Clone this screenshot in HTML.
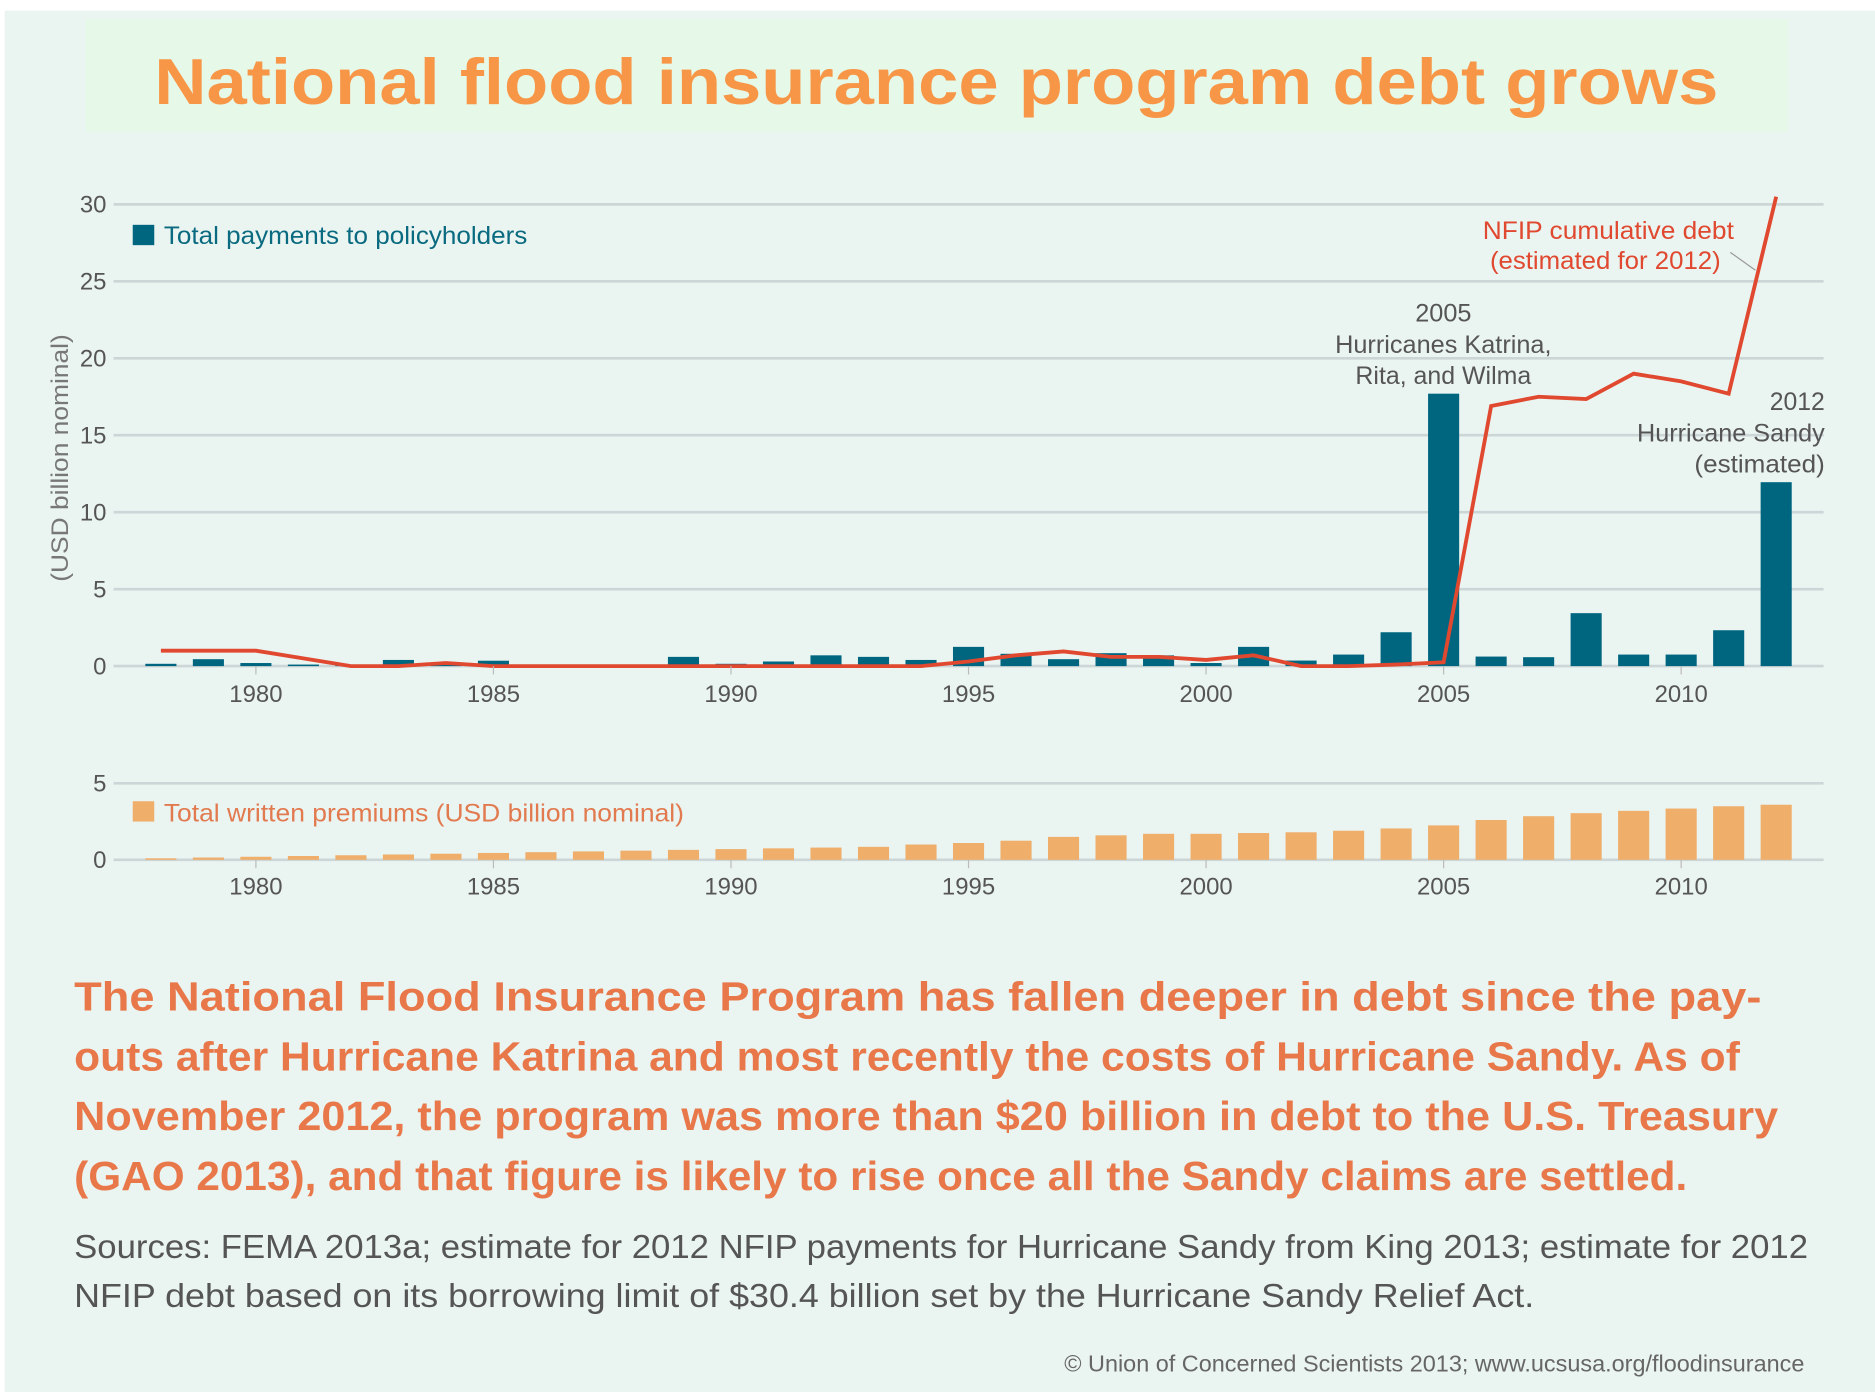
<!DOCTYPE html>
<html><head><meta charset="utf-8">
<style>
html,body{margin:0;padding:0;background:#fff;width:1875px;height:1392px;overflow:hidden}
svg{display:block}
text{font-family:"Liberation Sans",sans-serif}
</style></head>
<body>
<svg id="chart" width="1875" height="1392" viewBox="0 0 1568 1164" preserveAspectRatio="none" xmlns="http://www.w3.org/2000/svg">
<rect x="0" y="0" width="1568" height="1164" fill="#ffffff"/>
<rect x="4" y="9" width="1564" height="1155" fill="#eaf4f1"/>
<rect x="72" y="16" width="1423" height="94" fill="#e6f8e7"/>
<text x="783" y="87" text-anchor="middle" font-size="54" font-weight="bold" fill="#f79646" textLength="1308" lengthAdjust="spacingAndGlyphs">National flood insurance program debt grows</text>

<g id="grid-top"></g>
<g id="grid-bot"></g>
<g id="bars-pay"></g>
<g id="bars-prem"></g>
<polyline id="debt-line" fill="none" stroke="#e0492f" stroke-width="3.2" stroke-linejoin="miter"/>
<g id="xlabels"></g>

<text transform="translate(57,383) rotate(-90)" text-anchor="middle" font-size="20" fill="#777" textLength="207" lengthAdjust="spacingAndGlyphs">(USD billion nominal)</text>

<rect x="111" y="188" width="18" height="17" fill="#006680"/>
<text x="137" y="204" font-size="21" fill="#0a6a80" textLength="304" lengthAdjust="spacingAndGlyphs">Total payments to policyholders</text>

<text x="1240" y="200" font-size="21" fill="#e0492f" textLength="210" lengthAdjust="spacingAndGlyphs">NFIP  cumulative debt</text>
<text x="1246" y="225" font-size="21" fill="#e0492f" textLength="193" lengthAdjust="spacingAndGlyphs">(estimated for 2012)</text>
<line x1="1447" y1="211" x2="1468" y2="226" stroke="#999" stroke-width="1"/>

<g fill="#555" font-size="21">
<text x="1207" y="269" text-anchor="middle" textLength="47" lengthAdjust="spacingAndGlyphs">2005</text>
<text x="1207" y="295" text-anchor="middle" textLength="181" lengthAdjust="spacingAndGlyphs">Hurricanes Katrina,</text>
<text x="1207" y="321" text-anchor="middle" textLength="147" lengthAdjust="spacingAndGlyphs">Rita, and Wilma</text>
</g>
<g fill="#555" font-size="21" text-anchor="end">
<text x="1526" y="343" textLength="46" lengthAdjust="spacingAndGlyphs">2012</text>
<text x="1526" y="369" textLength="157" lengthAdjust="spacingAndGlyphs">Hurricane Sandy</text>
<text x="1526" y="395" textLength="109" lengthAdjust="spacingAndGlyphs">(estimated)</text>
</g>

<rect x="111" y="670" width="18" height="17" fill="#efae6a"/>
<text x="137" y="687" font-size="21" fill="#e27a4f" textLength="435" lengthAdjust="spacingAndGlyphs">Total written premiums (USD billion nominal)</text>

<g font-size="34" font-weight="bold" fill="#e8784a">
<text x="62" y="845" textLength="1411" lengthAdjust="spacingAndGlyphs">The National Flood Insurance Program has fallen deeper in debt since the pay-</text>
<text x="62" y="895" textLength="1393" lengthAdjust="spacingAndGlyphs">outs after Hurricane Katrina and most recently the costs of Hurricane Sandy. As of</text>
<text x="62" y="945" textLength="1425" lengthAdjust="spacingAndGlyphs">November 2012, the program was more than $20 billion in debt to the U.S. Treasury</text>
<text x="62" y="995" textLength="1349" lengthAdjust="spacingAndGlyphs">(GAO 2013), and that figure is likely to rise once all the Sandy claims are settled.</text>
</g>
<g font-size="28" fill="#555">
<text x="62" y="1052" textLength="1450" lengthAdjust="spacingAndGlyphs">Sources: FEMA 2013a; estimate for 2012 NFIP payments for Hurricane Sandy from King 2013; estimate for 2012</text>
<text x="62" y="1093" textLength="1221" lengthAdjust="spacingAndGlyphs">NFIP debt based on its borrowing limit of $30.4 billion set by the Hurricane Sandy Relief Act.</text>
</g>
<text x="1509" y="1147" text-anchor="end" font-size="19" fill="#666" textLength="619" lengthAdjust="spacingAndGlyphs">© Union of Concerned Scientists 2013; www.ucsusa.org/floodinsurance</text>
</svg>
<script>
const years = [1978,1979,1980,1981,1982,1983,1984,1985,1986,1987,1988,1989,1990,1991,1992,1993,1994,1995,1996,1997,1998,1999,2000,2001,2002,2003,2004,2005,2006,2007,2008,2009,2010,2011,2012];
const payments = [0.15,0.45,0.2,0.1,0.05,0.4,0.1,0.35,0.1,0.05,0.05,0.6,0.15,0.3,0.7,0.6,0.4,1.25,0.8,0.45,0.84,0.7,0.2,1.25,0.36,0.75,2.2,17.7,0.62,0.58,3.44,0.75,0.75,2.33,11.95];
const debt = [1.0,1.0,1.0,0.5,0,0,0.2,0,0,0,0,0,0,0,0,0,0,0.3,0.7,0.95,0.6,0.6,0.4,0.7,0,0,0.1,0.25,16.9,17.5,17.35,19.0,18.5,17.7,30.5];
const premiums = [0.1,0.15,0.2,0.25,0.3,0.35,0.4,0.45,0.5,0.55,0.6,0.65,0.7,0.75,0.8,0.85,1.0,1.1,1.25,1.5,1.6,1.7,1.7,1.75,1.8,1.9,2.05,2.25,2.6,2.85,3.05,3.2,3.35,3.5,3.6];
const topTicks = [0,5,10,15,20,25,30];
const botTicks = [0,5];
const xTickYears = [1980,1985,1990,1995,2000,2005,2010];

const NS='http://www.w3.org/2000/svg';
const xS = y => 214 + (y-1980)*39.73;
const yTop = v => 557 - v*12.87;
const yBot = v => 719 - v*12.8;
function mk(tag, attrs, parent){const e=document.createElementNS(NS,tag);for(const k in attrs)e.setAttribute(k,attrs[k]);parent.appendChild(e);return e;}

const gT=document.getElementById('grid-top'), gB=document.getElementById('grid-bot');
topTicks.forEach(t=>{
  const l=mk('line',{x1:95,x2:1525,y1:yTop(t),y2:yTop(t),stroke:'#ccd6d6','stroke-width':2.2},gT);
  
  
  const tx=mk('text',{x:89,y:yTop(t)+7,'text-anchor':'end','font-size':20,fill:'#555'},gT);
  tx.textContent=t;
  
  
});
botTicks.forEach(t=>{
  const l=mk('line',{x1:95,x2:1525,y1:yBot(t),y2:yBot(t),stroke:'#ccd6d6','stroke-width':2.2},gB);
  
  
  const tx=mk('text',{x:89,y:yBot(t)+7,'text-anchor':'end','font-size':20,fill:'#555'},gB);
  tx.textContent=t;
  
  
});
const gP=document.getElementById('bars-pay'), gR=document.getElementById('bars-prem');
years.forEach((y,i)=>{
  const b=mk('rect',{x:xS(y)-13,width:26,y:yTop(payments[i]),height:Math.max(0,yTop(0)-yTop(payments[i])),fill:'#006680'},gP);
  
  
  const p=mk('rect',{x:xS(y)-13,width:26,y:yBot(premiums[i]),height:Math.max(0,yBot(0)-yBot(premiums[i])),fill:'#efae6a'},gR);
  
  
});
document.getElementById('debt-line').setAttribute('points', years.map((y,i)=>xS(y)+','+yTop(debt[i])).join(' '));
const gX=document.getElementById('xlabels');
xTickYears.forEach(y=>{
  [[yTop(0),587],[yBot(0),748]].forEach(([ay,ly],k)=>{
    const tk=mk('line',{x1:xS(y),x2:xS(y),y1:ay,y2:ay+7,stroke:'#bbb','stroke-width':1},gX);
    
    
    const tx=mk('text',{x:xS(y),y:ly,'text-anchor':'middle','font-size':20,fill:'#555'},gX);
    tx.textContent=y;
    
    
  });
});
</script>
</body></html>
